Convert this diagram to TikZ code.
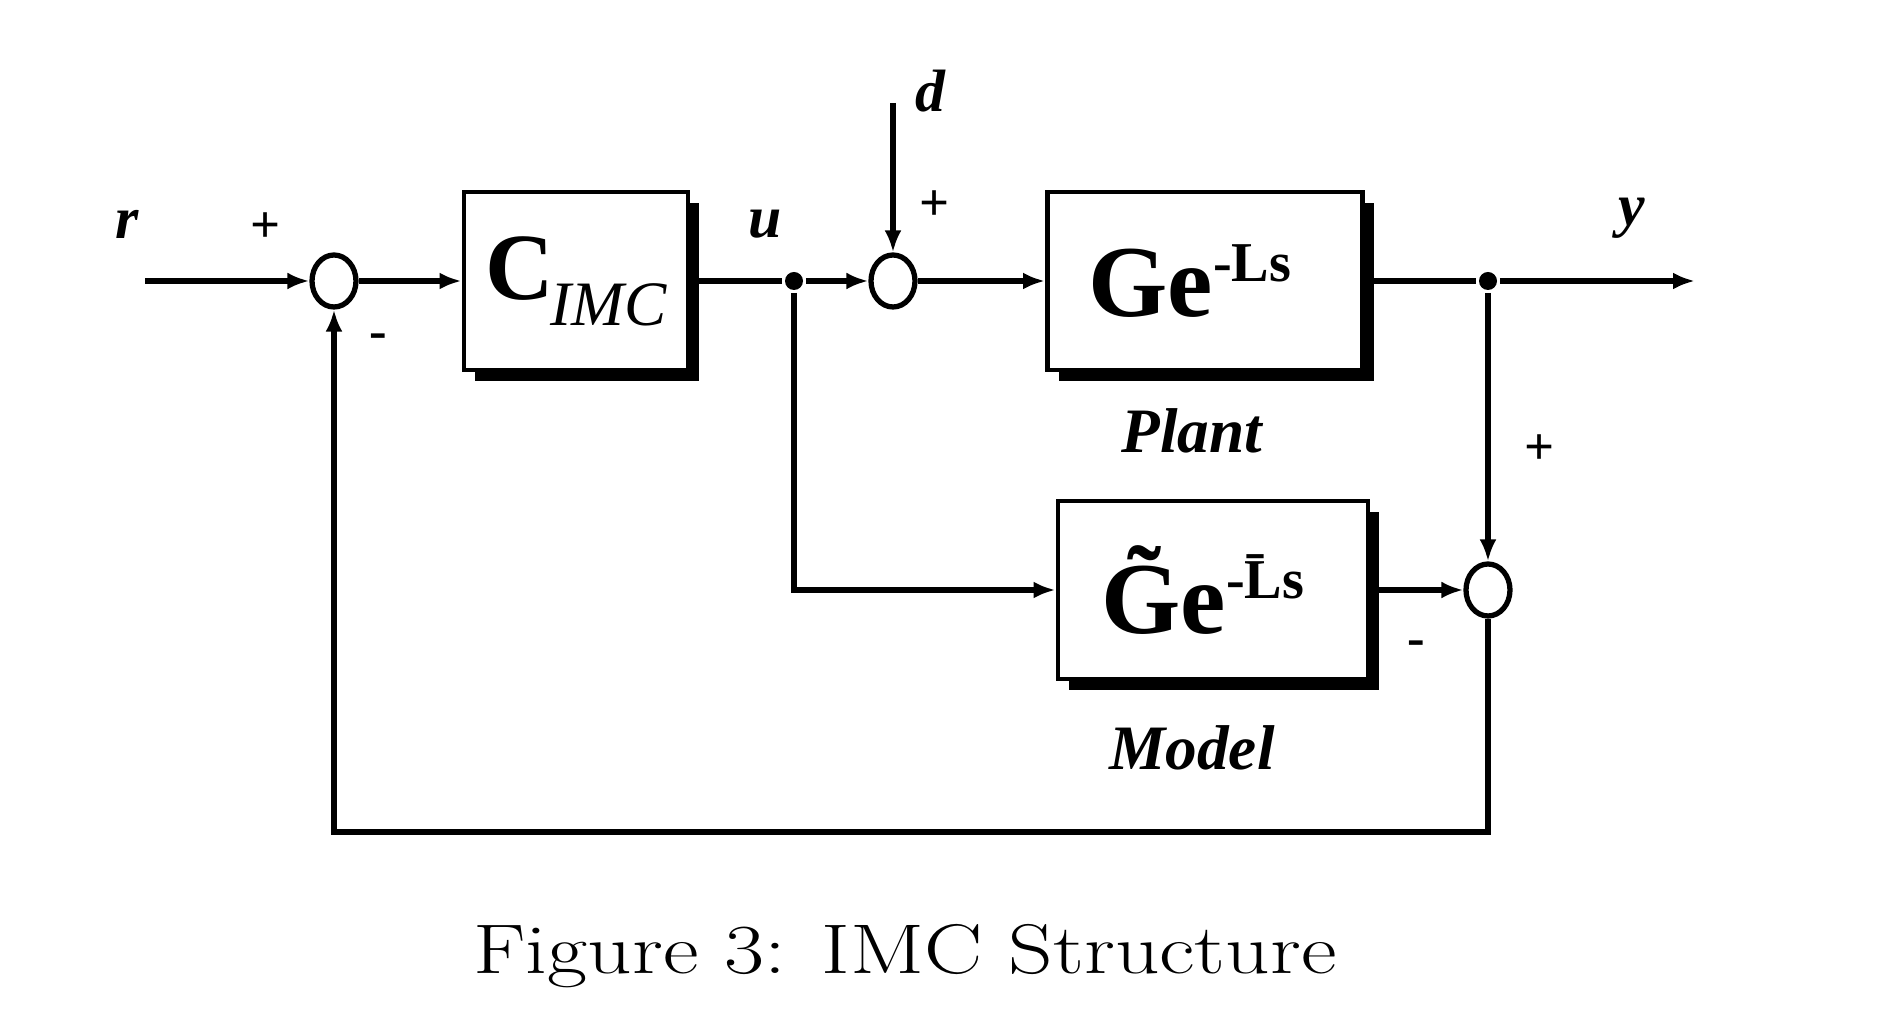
\documentclass[tikz,border=0pt]{standalone}
\usepackage{fontspec}
\newfontfamily\dgfont{Liberation Serif}
\usetikzlibrary{positioning, arrows.meta, shapes.geometric, shadows}

\tikzset{
  block/.style={draw, line width=1.4pt, fill=white, minimum height=1.78cm, inner sep=0pt,
    drop shadow={shadow xshift=0.11cm, shadow yshift=-0.11cm, fill=black, opacity=1}},
  sum/.style={draw, ellipse, line width=1.5pt, minimum width=0.44cm, minimum height=0.52cm, inner sep=0pt},
  dot/.style={circle, fill, inner sep=0pt, minimum size=0.18cm},
  sig/.style={font=\dgfont\fontsize{17}{17}\selectfont\bfseries\itshape},
  sgn/.style={font=\dgfont\fontsize{15}{15}\selectfont\bfseries},
  blocktext/.style={font=\dgfont\bfseries}
}

\begin{document}
\begin{tikzpicture}[node distance=2cm, on grid, line width=1.6pt,
    >={Latex[length=0.22cm,width=0.17cm]}]
            \useasboundingbox (0,0) rectangle (18.98,10.30);
            \node [sum] (sum_r) at (3.34,7.49) {};
            \coordinate [left=1.89cm of sum_r] (r_in);
            \node [block, blocktext, minimum width=2.24cm] [right=2.42cm of sum_r] (c_imc)
                {\fontsize{27}{30}\selectfont C\kern-1pt\raisebox{-0.26cm}{\mdseries\itshape\fontsize{18}{18}\selectfont IMC}};
            \node [dot] [right=2.18cm of c_imc] (u_pt) {};
            \node [sum] [right=0.99cm of u_pt] (sum_d) {};
            \coordinate [above=1.78cm of sum_d] (d_in);
            \node [block, blocktext, minimum width=3.15cm] [right=3.12cm of sum_d] (plant)
                {\fontsize{29}{30}\selectfont Ge\raisebox{10pt}{\fontsize{16}{16}\selectfont -Ls}\kern0.3cm};
            \node [dot] [right=2.83cm of plant] (y_pt) {};
            \coordinate [right=2.07cm of y_pt] (y_out);
            \node [sum] [below=3.09cm of y_pt] (sum_m) {};
            \node [block, blocktext, minimum width=3.10cm] [left=2.75cm of sum_m] (model)
                {\fontsize{29}{30}\selectfont \~{G}e\raisebox{10pt}{\fontsize{16}{16}\selectfont -\={L}s}\kern0.2cm};
            \coordinate [below=2.42cm of sum_m] (fb);

            \node [sig] [above left=0.57cm and 2.07cm of sum_r] (r_lbl) {r};
            \node [sig] [above left=0.57cm and 0.29cm of u_pt] (u_lbl) {u};
            \node [sig] [above right=1.90cm and 0.37cm of sum_d] (d_lbl) {d};
            \node [sig] [above right=0.63cm and 1.44cm of y_pt] (y_lbl) {y};
            \node [sig, font=\dgfont\fontsize{18}{18}\selectfont\bfseries\itshape]
                [below left=1.50cm and 0.13cm of plant] (plant_lbl) {Plant};
            \node [sig, font=\dgfont\fontsize{18}{18}\selectfont\bfseries\itshape]
                [below left=1.58cm and 0.21cm of model] (model_lbl) {Model};
            \node [sgn] [above left=0.53cm and 0.68cm of sum_r] (sum_r_p) {+};
            \node [sgn] [below right=0.60cm and 0.44cm of sum_r] (sum_r_m) {-};
            \node [sgn] [above right=0.75cm and 0.42cm of sum_d] (sum_d_p) {+};
            \node [sgn] [above right=1.40cm and 0.52cm of sum_m] (sum_m_p) {+};
            \node [sgn] [below left=0.58cm and 0.72cm of sum_m] (sum_m_m) {-};

            \node [xscale=1.24, font=\fontsize{20}{20}\selectfont] (caption) at (9.05,0.74)
                {Figure 3: IMC Structure};

            \path[->]
                (r_in) edge (sum_r)
                (sum_r) edge (c_imc)
                (u_pt) edge (sum_d)
                (d_in) edge (sum_d)
                (sum_d) edge (plant)
                (y_pt) edge (y_out)
                    edge (sum_m)
                (model) edge (sum_m);
            \draw (c_imc) -- (u_pt);
            \draw (plant) -- (y_pt);
            \draw[->] (u_pt) |- (model);
            \draw[->] (sum_m) -- (fb) -| (sum_r);
\end{tikzpicture}
\end{document}
